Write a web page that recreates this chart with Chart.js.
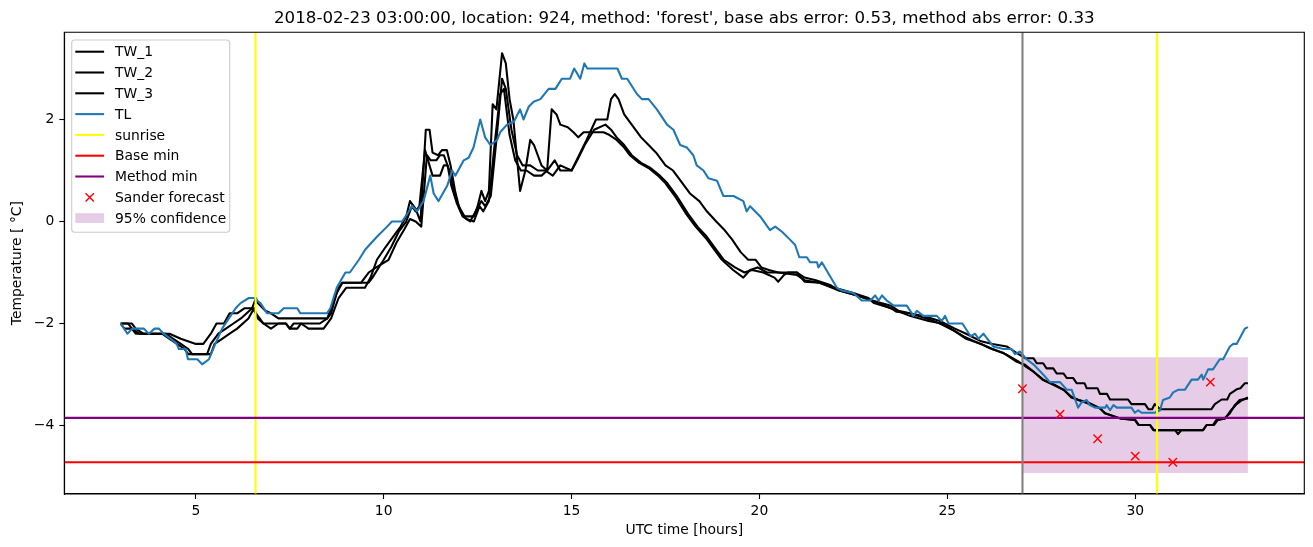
<!DOCTYPE html>
<html><head><meta charset="utf-8">
<script src="https://cdn.jsdelivr.net/npm/chart.js@4.4.1/dist/chart.umd.min.js"></script>
<style>html,body{margin:0;padding:0;background:#fff;} #wrap{width:1313px;height:547px;position:relative;}</style>
</head><body><div id="wrap"><canvas id="c" width="1313" height="547"></canvas></div>
<script>
const titleText = "2018-02-23 03:00:00, location: 924, method: 'forest', base abs error: 0.53, method abs error: 0.33";
const xLabel = "UTC time [hours]";
const yLabel = "Temperature [ \u00b0C]";

// [hour, °C] pairs
const tw1 = [[3.0,-2.0],[3.1,-2.1],[3.3,-2.1],[3.4,-2.2],[4.2,-2.2],[4.4,-2.3],[4.6,-2.4],[4.8,-2.5],[4.9,-2.6],[5.4,-2.6],[5.5,-2.4],[5.7,-2.3],[5.9,-2.2],[6.1,-2.1],[6.4,-1.9],[6.55,-1.7],[6.65,-1.9],[6.8,-2.0],[7.0,-2.1],[7.2,-2.0],[7.4,-2.0],[7.5,-2.1],[7.7,-2.1],[7.8,-2.0],[8.0,-2.1],[8.4,-2.1],[8.6,-1.9],[8.8,-1.5],[9.0,-1.3],[9.5,-1.3],[9.65,-1.1],[9.82,-0.75],[10.05,-0.5],[10.2,-0.35],[10.35,-0.2],[10.45,-0.1],[10.6,0.1],[10.7,0.4],[10.85,0.25],[10.98,0.0],[11.12,1.8],[11.22,1.8],[11.3,1.35],[11.45,1.3],[11.55,1.4],[11.68,1.4],[11.78,1.1],[11.9,0.6],[12.0,0.3],[12.15,0.1],[12.4,0.1],[12.5,0.3],[12.6,0.6],[12.7,0.4],[12.8,0.6],[12.9,2.3],[13.0,2.2],[13.15,3.3],[13.25,3.1],[13.35,2.4],[13.45,2.0],[13.63,0.6],[13.77,1.0],[13.9,1.6],[14.0,1.5],[14.2,1.1],[14.35,1.0],[14.47,2.2],[14.6,2.1],[14.7,1.9],[14.9,1.85],[15.05,1.75],[15.18,1.65],[15.32,1.75],[15.85,1.75],[16.0,1.7],[16.2,1.6],[16.4,1.45],[16.55,1.3],[16.8,1.15],[17.05,1.05],[17.3,0.9],[17.5,0.75],[17.75,0.5],[18.05,0.15],[18.3,-0.1],[18.6,-0.35],[18.75,-0.5],[19.0,-0.75],[19.3,-0.95],[19.57,-1.1],[19.75,-0.95],[19.95,-0.9],[20.2,-1.0],[20.5,-1.0],[21.0,-1.05],[21.2,-1.15],[21.6,-1.2],[22.0,-1.3],[22.5,-1.4],[22.9,-1.5],[23.05,-1.6],[23.5,-1.7],[23.65,-1.77],[24.0,-1.8],[24.45,-1.9],[24.8,-2.0],[25.15,-2.13],[25.45,-2.26],[25.85,-2.39],[26.15,-2.49],[26.5,-2.58],[26.85,-2.75],[27.07,-2.81],[27.29,-2.94],[27.55,-3.11],[27.82,-3.2],[28.09,-3.3],[28.31,-3.44],[28.48,-3.5],[28.71,-3.56],[29.06,-3.66],[29.19,-3.76],[29.59,-3.86],[29.99,-3.89],[30.08,-3.99],[30.39,-3.99],[30.48,-4.09],[31.81,-4.09],[31.9,-3.99],[32.07,-3.99],[32.16,-3.89],[32.38,-3.86],[32.52,-3.76],[32.65,-3.6],[32.78,-3.5],[33.0,-3.47]];

const tw2 = [[3.0,-2.0],[3.3,-2.0],[3.4,-2.1],[3.6,-2.2],[4.1,-2.2],[4.3,-2.3],[4.5,-2.4],[4.7,-2.5],[4.8,-2.6],[5.3,-2.6],[5.4,-2.4],[5.6,-2.2],[5.8,-2.1],[6.0,-2.0],[6.2,-1.9],[6.5,-1.7],[6.6,-1.8],[6.7,-1.9],[6.8,-2.0],[7.4,-2.0],[7.5,-2.1],[7.6,-2.0],[8.3,-2.0],[8.5,-1.9],[8.6,-1.7],[8.8,-1.3],[8.9,-1.2],[9.6,-1.2],[9.7,-1.1],[10.0,-0.75],[10.2,-0.5],[10.4,-0.2],[10.6,0.0],[10.75,0.3],[10.85,0.2],[10.95,0.3],[11.1,1.4],[11.3,0.9],[11.5,0.9],[11.6,1.1],[11.7,1.1],[11.8,0.7],[11.95,0.35],[12.1,0.1],[12.3,0.0],[12.45,0.2],[12.6,0.4],[12.7,0.3],[12.85,0.5],[13.0,1.6],[13.15,2.8],[13.25,2.6],[13.4,1.8],[13.55,1.3],[13.7,1.1],[13.9,1.1],[14.1,1.0],[14.3,1.0],[14.5,0.9],[14.7,1.1],[15.0,1.0],[15.15,1.2],[15.35,1.5],[15.6,1.8],[15.9,1.9],[16.05,1.8],[16.2,1.65],[16.4,1.5],[16.6,1.3],[16.85,1.15],[17.1,1.05],[17.35,0.9],[17.55,0.75],[17.8,0.5],[18.1,0.15],[18.35,-0.1],[18.6,-0.3],[18.8,-0.5],[19.05,-0.75],[19.35,-0.9],[19.6,-1.0],[19.8,-0.95],[20.1,-1.0],[20.4,-1.1],[20.5,-1.18],[20.65,-1.05],[20.75,-1.0],[21.0,-1.0],[21.2,-1.18],[21.6,-1.2],[22.1,-1.35],[22.6,-1.45],[23.0,-1.55],[23.5,-1.7],[24.0,-1.85],[24.5,-1.95],[24.85,-2.0],[25.2,-2.15],[25.5,-2.3],[25.9,-2.4],[26.2,-2.5],[26.55,-2.6],[26.9,-2.75],[27.1,-2.85],[27.3,-2.95],[27.55,-3.1],[27.85,-3.2],[28.1,-3.3],[28.3,-3.45],[28.5,-3.5],[28.75,-3.55],[29.06,-3.66],[29.2,-3.76],[29.6,-3.86],[30.0,-3.89],[30.1,-3.99],[30.4,-3.99],[30.5,-4.09],[31.06,-4.09],[31.14,-4.17],[31.23,-4.09],[31.8,-4.09],[31.9,-3.99],[32.1,-3.99],[32.2,-3.89],[32.4,-3.86],[32.55,-3.7],[32.7,-3.58],[32.85,-3.5],[33.0,-3.45]];

const tw3 = [[3.0,-2.0],[3.2,-2.0],[3.3,-2.1],[3.5,-2.2],[4.3,-2.2],[4.6,-2.3],[5.0,-2.4],[5.2,-2.4],[5.4,-2.2],[5.55,-2.0],[5.75,-2.0],[5.9,-1.8],[6.1,-1.8],[6.3,-1.7],[6.5,-1.7],[6.6,-1.5],[6.65,-1.6],[6.85,-1.75],[7.0,-1.8],[7.2,-1.9],[8.5,-1.9],[8.6,-1.8],[8.75,-1.4],[8.9,-1.2],[9.4,-1.2],[9.5,-1.1],[9.6,-1.0],[9.8,-0.9],[10.13,-0.75],[10.35,-0.4],[10.55,-0.15],[10.7,0.05],[10.85,0.0],[11.0,-0.1],[11.15,1.3],[11.25,1.2],[11.4,1.2],[11.5,1.3],[11.6,1.3],[11.75,1.0],[11.9,0.5],[12.05,0.2],[12.2,0.05],[12.4,0.0],[12.55,0.3],[12.65,0.2],[12.8,0.4],[12.95,1.5],[13.1,2.5],[13.2,2.6],[13.35,1.7],[13.5,1.2],[13.65,1.0],[13.8,1.0],[14.0,0.9],[14.2,0.9],[14.35,1.0],[14.55,1.2],[14.7,1.0],[15.0,1.0],[15.2,1.3],[15.4,1.6],[15.65,2.0],[15.95,2.0],[16.05,2.4],[16.15,2.5],[16.25,2.4],[16.4,2.1],[16.65,1.85],[16.85,1.65],[17.05,1.5],[17.25,1.35],[17.5,1.1],[17.7,1.0],[17.85,0.85],[18.15,0.55],[18.4,0.4],[18.6,0.2],[18.85,0.0],[19.05,-0.15],[19.27,-0.35],[19.5,-0.6],[19.7,-0.75],[19.9,-0.75],[20.05,-0.9],[20.25,-0.95],[20.5,-1.0],[21.0,-1.0],[21.2,-1.1],[21.5,-1.15],[21.9,-1.25],[22.1,-1.35],[22.6,-1.45],[23.0,-1.55],[23.5,-1.65],[23.7,-1.75],[24.0,-1.8],[24.5,-1.88],[24.8,-1.95],[25.2,-2.1],[25.5,-2.2],[25.9,-2.35],[26.2,-2.4],[26.58,-2.45],[26.85,-2.58],[27.07,-2.68],[27.29,-2.68],[27.38,-2.78],[27.55,-2.78],[27.64,-2.88],[27.82,-2.88],[27.91,-2.98],[28.09,-2.98],[28.18,-3.07],[28.35,-3.07],[28.44,-3.17],[28.65,-3.17],[28.71,-3.27],[29.0,-3.27],[29.06,-3.38],[29.25,-3.38],[29.33,-3.49],[29.81,-3.49],[29.9,-3.58],[30.26,-3.58],[30.35,-3.68],[30.45,-3.68],[30.52,-3.58],[30.66,-3.68],[32.03,-3.68],[32.12,-3.58],[32.3,-3.49],[32.45,-3.49],[32.52,-3.38],[32.7,-3.29],[32.8,-3.27],[32.92,-3.17],[33.0,-3.17]];

const tl = [[3.0,-2.0],[3.18,-2.2],[3.31,-2.1],[3.62,-2.1],[3.75,-2.2],[3.9,-2.1],[4.02,-2.1],[4.14,-2.2],[4.33,-2.3],[4.49,-2.4],[4.55,-2.5],[4.73,-2.5],[4.79,-2.7],[5.04,-2.7],[5.17,-2.8],[5.35,-2.7],[5.52,-2.4],[5.7,-2.1],[5.88,-1.9],[6.06,-1.7],[6.19,-1.6],[6.41,-1.5],[6.54,-1.5],[6.72,-1.6],[6.9,-1.8],[7.07,-1.8],[7.2,-1.8],[7.34,-1.7],[7.7,-1.7],[7.78,-1.8],[8.49,-1.8],[8.58,-1.7],[8.75,-1.3],[8.98,-1.0],[9.1,-1.0],[9.34,-0.75],[9.51,-0.55],[9.82,-0.3],[10.09,-0.1],[10.22,0.0],[10.49,0.0],[10.76,0.3],[10.89,0.2],[11.06,0.4],[11.24,0.9],[11.33,0.55],[11.46,0.4],[11.69,0.7],[11.82,1.0],[11.91,0.9],[12.13,1.2],[12.26,1.25],[12.39,1.45],[12.57,2.0],[12.7,1.65],[12.84,1.5],[13.02,1.6],[13.1,1.75],[13.28,1.9],[13.46,1.95],[13.63,2.2],[13.72,2.0],[13.86,2.25],[13.99,2.35],[14.17,2.4],[14.39,2.6],[14.57,2.6],[14.74,2.8],[14.96,2.8],[15.07,3.0],[15.23,2.8],[15.34,3.1],[15.42,3.0],[16.22,3.0],[16.34,2.8],[16.48,2.8],[16.74,2.5],[16.87,2.4],[17.05,2.4],[17.27,2.2],[17.36,2.1],[17.54,1.9],[17.71,1.8],[17.89,1.5],[18.07,1.45],[18.24,1.3],[18.33,1.1],[18.51,1.0],[18.64,0.85],[18.87,0.8],[19.04,0.5],[19.31,0.5],[19.57,0.4],[19.66,0.2],[19.75,0.3],[20.02,0.1],[20.28,-0.17],[20.42,-0.1],[20.6,-0.2],[20.82,-0.36],[20.95,-0.46],[21.06,-0.7],[21.26,-0.7],[21.35,-0.8],[21.53,-0.8],[21.57,-0.9],[21.66,-0.8],[22.06,-1.3],[22.19,-1.35],[22.5,-1.4],[22.72,-1.55],[22.95,-1.55],[23.08,-1.45],[23.17,-1.55],[23.26,-1.45],[23.39,-1.55],[23.57,-1.65],[23.92,-1.65],[24.1,-1.85],[24.19,-1.75],[24.36,-1.85],[24.72,-1.85],[24.85,-1.95],[24.94,-1.85],[25.03,-2.0],[25.4,-2.0],[25.62,-2.25],[25.74,-2.2],[25.83,-2.3],[25.96,-2.2],[26.22,-2.45],[26.49,-2.5],[26.71,-2.5],[26.8,-2.6],[26.93,-2.55],[27.11,-2.7],[27.29,-2.8],[27.55,-3.0],[27.73,-3.15],[28.0,-3.15],[28.18,-3.3],[28.31,-3.3],[28.48,-3.65],[28.57,-3.55],[28.71,-3.5],[28.79,-3.6],[28.93,-3.65],[29.2,-3.65],[29.24,-3.6],[29.33,-3.7],[29.42,-3.6],[29.51,-3.65],[29.9,-3.65],[29.99,-3.75],[30.08,-3.7],[30.17,-3.75],[30.52,-3.75],[30.66,-3.7],[30.74,-3.5],[30.92,-3.45],[31.01,-3.35],[31.14,-3.3],[31.32,-3.3],[31.5,-3.1],[31.67,-3.1],[31.77,-3.0],[31.81,-3.1],[31.94,-2.9],[32.07,-2.9],[32.25,-2.7],[32.34,-2.7],[32.52,-2.45],[32.61,-2.4],[32.7,-2.4],[32.92,-2.1],[33.0,-2.07]];

const forecastHours = [27, 28, 29, 30, 31, 32];
const forecastTemps = [-3.28, -3.78, -4.26, -4.6, -4.72, -3.15];
const sunriseHours = [6.59, 30.58];
const forecastStartHour = 27;
const baseMin = -4.72;
const methodMin = -3.85;
const confHours = [27, 33];
const confLow = -4.93;
const confHigh = -2.66;
const xTickStep = 5;
const yTickStep = 2;

// ---- layout / style ----
const X_MIN = 1.5, X_MAX = 34.5, Y_MIN = -5.343, Y_MAX = 3.71;
const LW = 2.08;
const FONT = '"DejaVu Sans", "Liberation Sans", sans-serif';
const FS = 13.89;
Chart.defaults.font.family = FONT;
Chart.defaults.color = '#000';

const pts = arr => arr.map(p => ({x: p[0], y: p[1]}));
const vline = x => [{x: x, y: Y_MIN}, {x: x, y: Y_MAX}];
const hline = y => [{x: X_MIN, y: y}, {x: X_MAX, y: y}];
const lineDs = (label, data, color, order) => ({
  label, data, borderColor: color, backgroundColor: color, borderWidth: LW,
  pointRadius: 0, pointHoverRadius: 0, fill: false, tension: 0, order,
  borderJoinStyle: 'round', borderCapStyle: 'butt', legendKind: 'line'
});

const datasets = [
  lineDs('TW_1', pts(tw1), '#000000', 9),
  lineDs('TW_2', pts(tw2), '#000000', 8),
  lineDs('TW_3', pts(tw3), '#000000', 7),
  lineDs('TL', pts(tl), '#1f77b4', 6),
  lineDs('sunrise', vline(sunriseHours[0]), '#ffff00', 5),
  lineDs('_sunrise2', vline(sunriseHours[1]), '#ffff00', 5),
  lineDs('Base min', hline(baseMin), '#ff0000', 4),
  lineDs('Method min', hline(methodMin), '#800080', 3),
  lineDs('_start', vline(forecastStartHour), '#808080', 2),
  {
    label: 'Sander forecast', data: forecastHours.map((h, i) => ({x: h, y: forecastTemps[i]})),
    showLine: false, pointStyle: 'crossRot', pointRadius: 5.9, pointHoverRadius: 5.9,
    borderColor: '#ff0000', backgroundColor: '#ff0000', pointBorderWidth: 1.4, borderWidth: 1.4,
    order: 1, legendKind: 'x'
  },
  {
    label: '95% confidence', data: confHours.map(h => ({x: h, y: confHigh})),
    fill: {value: confLow}, backgroundColor: 'rgba(128,0,128,0.2)',
    borderColor: 'rgba(0,0,0,0)', borderWidth: 0, pointRadius: 0, order: 10, legendKind: 'patch'
  }
];

const framePlugin = {
  id: 'frame',
  afterDatasetsDraw(chart) {
    const {ctx, chartArea: a} = chart;
    ctx.save();
    ctx.strokeStyle = '#000'; ctx.lineWidth = 1.1;
    ctx.beginPath();
    ctx.moveTo(a.left, a.bottom); ctx.lineTo(a.left, a.top); ctx.lineTo(a.right, a.top);
    ctx.lineTo(a.right, a.bottom); ctx.closePath();
    ctx.stroke();
    ctx.restore();
  }
};

const legendPlugin = {
  id: 'mplLegend',
  afterDraw(chart) {
    const {ctx, chartArea: a} = chart;
    const items = chart.data.datasets.filter(d => !d.label.startsWith('_'));
    ctx.save();
    ctx.font = FS + 'px ' + FONT;
    let maxW = 0;
    items.forEach(d => { maxW = Math.max(maxW, ctx.measureText(d.label).width); });
    const left = a.left + 7.4, top = a.top + 7.7;
    const w = 43.3 + maxW + 3.5, h = 192.3;
    ctx.beginPath();
    ctx.roundRect(left, top, w, h, 3);
    ctx.fillStyle = 'rgba(255,255,255,0.8)';
    ctx.fill();
    ctx.strokeStyle = '#cccccc'; ctx.lineWidth = 1.1;
    ctx.stroke();
    items.forEach((d, i) => {
      const cy = top + 11.7 + i * 20.8;
      const x0 = left + 3.6, x1 = left + 32.4;
      if (d.legendKind === 'line') {
        ctx.beginPath(); ctx.moveTo(x0, cy); ctx.lineTo(x1, cy);
        ctx.strokeStyle = d.borderColor; ctx.lineWidth = LW; ctx.lineCap = 'butt'; ctx.stroke();
      } else if (d.legendKind === 'x') {
        const cx = (x0 + x1) / 2, r = 4.17;
        ctx.beginPath();
        ctx.moveTo(cx - r, cy - r); ctx.lineTo(cx + r, cy + r);
        ctx.moveTo(cx - r, cy + r); ctx.lineTo(cx + r, cy - r);
        ctx.strokeStyle = d.borderColor; ctx.lineWidth = 1.4; ctx.stroke();
      } else if (d.legendKind === 'patch') {
        ctx.fillStyle = d.backgroundColor;
        ctx.fillRect(x0, cy - 4.9, x1 - x0, 9.7);
      }
      ctx.fillStyle = '#000';
      ctx.textBaseline = 'middle'; ctx.textAlign = 'left';
      ctx.fillText(d.label, left + 43.3, cy + 1);
    });
    ctx.restore();
  }
};

const fmt = v => String(v).replace('-', '\u2212');

new Chart(document.getElementById('c'), {
  type: 'line',
  data: {datasets},
  plugins: [framePlugin, legendPlugin],
  options: {
    responsive: false, devicePixelRatio: 1, animation: false, events: [],
    layout: {padding: {left: 0, right: 8.7, top: 0, bottom: 0}},
    plugins: {
      legend: {display: false},
      tooltip: {enabled: false},
      title: {
        display: true, text: titleText, fullSize: false, color: '#000',
        font: {size: 16.67, weight: 'normal', family: FONT},
        padding: {top: 9, bottom: 3.3}
      }
    },
    scales: {
      x: {
        type: 'linear', min: X_MIN, max: X_MAX,
        afterFit: s => { s.height = 53; },
        ticks: {stepSize: xTickStep, includeBounds: false, autoSkip: false, maxRotation: 0, minRotation: 0,
                padding: 4, color: '#000', font: {size: FS}, callback: fmt},
        grid: {drawOnChartArea: false, drawTicks: true, tickLength: 5, tickWidth: 1.1, tickColor: '#000', color: '#000'},
        border: {display: true, color: '#000', width: 1.1},
        title: {display: true, text: xLabel, color: '#000', font: {size: FS}, padding: {top: 0, bottom: 8.7}}
      },
      y: {
        type: 'linear', min: Y_MIN, max: Y_MAX,
        afterFit: s => { s.width = 64.3; },
        ticks: {stepSize: yTickStep, includeBounds: false, autoSkip: false, padding: 5, color: '#000',
                font: {size: FS}, callback: fmt},
        grid: {drawOnChartArea: false, drawTicks: true, tickLength: 5, tickWidth: 1.1, tickColor: '#000', color: '#000'},
        border: {display: true, color: '#000', width: 1.1},
        title: {display: true, text: yLabel, color: '#000', font: {size: FS}, padding: {top: 9, bottom: 0}}
      }
    }
  }
});
</script>
</body></html>
